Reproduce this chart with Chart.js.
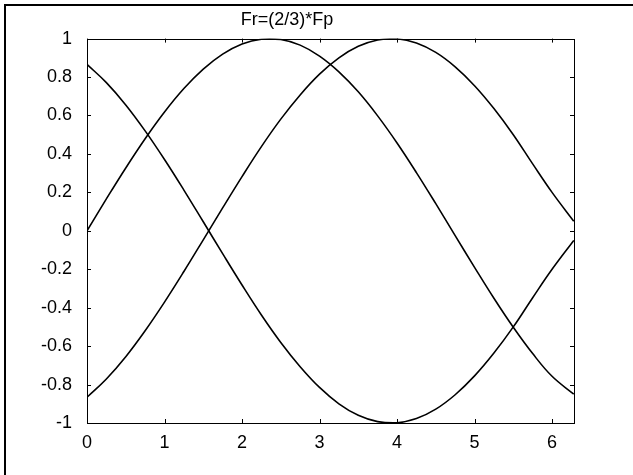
<!DOCTYPE html>
<html>
<head>
<meta charset="utf-8">
<script src="https://cdn.jsdelivr.net/npm/chart.js@4"></script>
<style>
  body { margin: 0; background: #fff; }
  #wrap { position: relative; width: 633px; height: 475px; }
  canvas { display: block; }
</style>
</head>
<body>
<div id="wrap"><canvas id="grafico" width="633" height="475"></canvas></div>
<script>
// valores
const titulo = 'Fr=(2/3)*Fp';
const xVals = [0, 0.25, 0.5, 0.75, 1, 1.25, 1.5, 1.75, 2, 2.25, 2.5, 2.75, 3, 3.25, 3.5,
  3.75, 4, 4.25, 4.5, 4.75, 5, 5.25, 5.5, 5.75, 6, 6.28];
const ondaA = [0, 0.166, 0.327, 0.479, 0.618, 0.74, 0.841, 0.919, 0.972, 0.997, 0.995, 0.966, 0.909, 0.827, 0.723,
  0.598, 0.457, 0.303, 0.141, -0.025, -0.19, -0.351, -0.502, -0.639, -0.757, -0.85];
const ondaB = [-0.866, -0.771, -0.655, -0.52, -0.371, -0.212, -0.047, 0.119, 0.282, 0.438, 0.581, 0.707, 0.815, 0.9, 0.96,
  0.993, 0.999, 0.977, 0.928, 0.853, 0.755, 0.636, 0.5, 0.348, 0.2, 0.05];
const ondaC = [0.866, 0.771, 0.655, 0.52, 0.371, 0.212, 0.047, -0.119, -0.282, -0.438, -0.581, -0.707, -0.815, -0.9, -0.96,
  -0.993, -0.999, -0.977, -0.928, -0.853, -0.755, -0.636, -0.5, -0.348, -0.2, -0.05];
const xTicks = [0, 1, 2, 3, 4, 5, 6];
const yTicks = [-1, -0.8, -0.6, -0.4, -0.2, 0, 0.2, 0.4, 0.6, 0.8, 1];
const xMax = 6.2832;

const fuente = '"Liberation Sans", Arial, sans-serif';

// marco exterior + caja con marcas hacia dentro (estilo matlab)
const cajaPlugin = {
  id: 'caja',
  beforeDraw(chart) {
    const c = chart.ctx;
    c.save();
    c.fillStyle = '#000';
    c.fillRect(4, 4, 633 - 4, 2);
    c.fillRect(4, 4, 2, 475 - 4);
    c.restore();
  },
  afterDatasetsDraw(chart) {
    const c = chart.ctx;
    const a = chart.chartArea;
    const sx = chart.scales.x, sy = chart.scales.y;
    const largo = 4;
    c.save();
    c.strokeStyle = '#000';
    c.lineWidth = 1;
    c.strokeRect(Math.round(a.left) + 0.5, Math.round(a.top) + 0.5,
      Math.round(a.right - a.left), Math.round(a.bottom - a.top));
    c.beginPath();
    xTicks.forEach(v => {
      const px = Math.round(sx.getPixelForValue(v)) + 0.5;
      c.moveTo(px, a.bottom); c.lineTo(px, a.bottom - largo);
      c.moveTo(px, a.top); c.lineTo(px, a.top + largo);
    });
    yTicks.forEach(v => {
      const py = Math.round(sy.getPixelForValue(v)) + 0.5;
      c.moveTo(a.left, py); c.lineTo(a.left + largo, py);
      c.moveTo(a.right, py); c.lineTo(a.right - largo, py);
    });
    c.stroke();
    c.restore();
  }
};

function serie(vals) {
  return {
    data: xVals.map((x, i) => ({ x, y: vals[i] })),
    borderColor: '#000',
    borderWidth: 1.6,
    pointRadius: 0,
    fill: false,
    tension: 0.4
  };
}

new Chart(document.getElementById('grafico').getContext('2d'), {
  type: 'line',
  data: { datasets: [serie(ondaA), serie(ondaB), serie(ondaC)] },
  plugins: [cajaPlugin],
  options: {
    responsive: false,
    animation: false,
    layout: { padding: { left: 0, right: 59, top: 0, bottom: 0 } },
    plugins: {
      legend: { display: false },
      tooltip: { enabled: false },
      title: {
        display: true,
        text: titulo,
        color: '#000',
        font: { family: fuente, size: 18, weight: 'normal' },
        padding: { top: 9, bottom: 8 }
      }
    },
    scales: {
      x: {
        type: 'linear',
        min: 0,
        max: xMax,
        grid: { display: false },
        border: { display: false },
        afterBuildTicks: s => { s.ticks = xTicks.map(v => ({ value: v })); },
        afterFit: s => { s.height = 52; },
        ticks: {
          color: '#000',
          padding: 1,
          maxRotation: 0,
          font: { family: fuente, size: 18 },
          callback: v => String(v)
        }
      },
      y: {
        min: -1,
        max: 1,
        grid: { display: false },
        border: { display: false },
        afterBuildTicks: s => { s.ticks = yTicks.map(v => ({ value: v })); },
        afterFit: s => { s.width = 87; },
        ticks: {
          color: '#000',
          padding: 7,
          font: { family: fuente, size: 18 },
          callback: v => String(Number(v.toFixed(1)))
        }
      }
    }
  }
});
</script>
</body>
</html>
